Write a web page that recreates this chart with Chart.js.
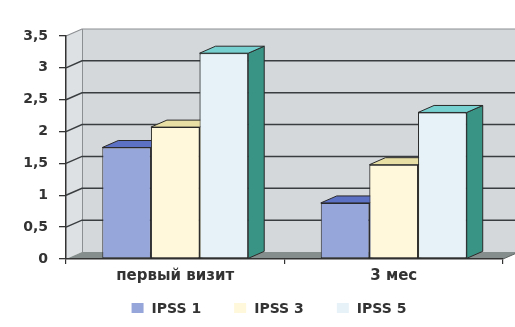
<!DOCTYPE html>
<html>
<head>
<meta charset="utf-8">
<script src="https://cdn.jsdelivr.net/npm/chart.js@4.4.1/dist/chart.umd.min.js"></script>
<style>
  html, body { margin: 0; padding: 0; background: #ffffff; }
  #wrap { width: 515px; height: 327px; position: relative; }
</style>
</head>
<body>
<div id="wrap"><canvas id="chart"></canvas></div>
<script>
// Visit categories and IPSS series
const categories = ['первый визит', '3 мес'];
const seriesNames = ['IPSS 1', 'IPSS 3', 'IPSS 5'];
const ipss1 = [1.75, 0.88];
const ipss3 = [2.07, 1.48];
const ipss5 = [3.23, 2.30];
const yTickValues = [0, 0.5, 1, 1.5, 2, 2.5, 3, 3.5];
const yTickLabels = ['0', '0,5', '1', '1,5', '2', '2,5', '3', '3,5'];

// Face colours of the 3D columns: front, top, side
const frontColors = ['#97A6DA', '#FFF8DA', '#E6F2F8'];
const topColors   = ['#5C70C4', '#E8DFA5', '#76D0CF'];
const sideColors  = ['#4A5EA8', '#C9BE82', '#3A9486'];

const DEPTH = { dx: 16, dy: -7 };
const FONT = 'DejaVu Sans';
const TEXT = '#333333';
const EDGE = '#2a2a2a';

function poly(ctx, pts) {
  ctx.beginPath();
  ctx.moveTo(pts[0][0], pts[0][1]);
  for (let i = 1; i < pts.length; i++) ctx.lineTo(pts[i][0], pts[i][1]);
  ctx.closePath();
}

// Back wall, side wall, floor and gridlines of the 3D box
const wallsPlugin = {
  id: 'walls',
  beforeDraw(chart) {
    const { ctx, chartArea: a } = chart;
    const y = chart.scales.y;
    const { dx, dy } = DEPTH;
    const farRight = chart.width + 20;
    ctx.save();

    ctx.fillStyle = '#D4D8DB';
    ctx.fillRect(a.left + dx, a.top + dy, farRight, a.bottom - a.top);

    ctx.fillStyle = '#DEE1E3';
    poly(ctx, [[a.left, a.top], [a.left + dx, a.top + dy], [a.left + dx, a.bottom + dy], [a.left, a.bottom]]);
    ctx.fill();

    // edge between side wall and back wall
    ctx.strokeStyle = '#8c8f92';
    ctx.lineWidth = 1;
    ctx.beginPath();
    ctx.moveTo(a.left + dx + 0.5, a.top + dy);
    ctx.lineTo(a.left + dx + 0.5, a.bottom + dy);
    ctx.stroke();

    y.ticks.forEach(t => {
      if (t.value === 0) return;
      const py = y.getPixelForValue(t.value);
      const top = t.value === y.max;
      ctx.strokeStyle = top ? '#8d9093' : '#3a3d3f';
      ctx.lineWidth = top ? 1.2 : 1.5;
      ctx.beginPath();
      ctx.moveTo(a.left, py);
      ctx.lineTo(a.left + dx, py + dy);
      ctx.lineTo(farRight, py + dy);
      ctx.stroke();
    });

    // floor
    ctx.fillStyle = '#858E8C';
    poly(ctx, [[a.left, a.bottom], [a.right, a.bottom], [a.right + dx, a.bottom + dy], [a.left + dx, a.bottom + dy]]);
    ctx.fill();
    ctx.strokeStyle = '#5d6462';
    ctx.lineWidth = 1;
    ctx.beginPath();
    ctx.moveTo(a.right, a.bottom);
    ctx.lineTo(a.right + dx, a.bottom + dy);
    ctx.stroke();
    ctx.restore();
  }
};

// Top and side faces of each column, drawn left to right so each front face hides the neighbour's side
const columnsPlugin = {
  id: 'columns3d',
  afterDatasetsDraw(chart) {
    const { ctx } = chart;
    const { dx, dy } = DEPTH;
    const n = chart.data.datasets.length;
    ctx.save();
    for (let i = 0; i < categories.length; i++) {
      for (let d = 0; d < n; d++) {
        const bar = chart.getDatasetMeta(d).data[i];
        if (d > 0) bar.draw(ctx, chart.chartArea);
        const { x, y, base, width } = bar.getProps(['x', 'y', 'base', 'width'], true);
        const l = x - width / 2, r = x + width / 2;
        ctx.lineWidth = 1;
        ctx.strokeStyle = EDGE;
        ctx.lineJoin = 'round';
        ctx.fillStyle = sideColors[d];
        poly(ctx, [[r, y], [r + dx, y + dy], [r + dx, base + dy], [r, base]]);
        ctx.fill(); ctx.stroke();
        ctx.fillStyle = topColors[d];
        poly(ctx, [[l, y], [l + dx, y + dy], [r + dx, y + dy], [r, y]]);
        ctx.fill(); ctx.stroke();
      }
    }
    ctx.restore();
  }
};

// Legend row under the category labels
const legendPlugin = {
  id: 'legendRow',
  afterDraw(chart) {
    const { ctx } = chart;
    const ds = chart.data.datasets;
    const box = { w: 12, h: 10 }, gap = 8, spacing = 33;
    const centerX = 269, midY = 308;
    ctx.save();
    ctx.font = `bold 14px "${FONT}"`;
    const widths = ds.map(s => box.w + gap + ctx.measureText(s.label).width);
    const total = widths.reduce((p, c) => p + c, 0) + spacing * (ds.length - 1);
    let cx = centerX - total / 2;
    ds.forEach((s, k) => {
      ctx.fillStyle = s.backgroundColor;
      ctx.fillRect(cx, midY - box.h / 2, box.w, box.h);
      ctx.fillStyle = TEXT;
      ctx.textBaseline = 'middle';
      ctx.textAlign = 'left';
      ctx.fillText(s.label, cx + box.w + gap, midY + 1);
      cx += widths[k] + spacing;
    });
    ctx.restore();
  }
};

const seriesValues = [ipss1, ipss3, ipss5];

new Chart(document.getElementById('chart'), {
  type: 'bar',
  data: {
    labels: categories,
    datasets: seriesNames.map((name, k) => ({
      label: name,
      data: seriesValues[k],
      backgroundColor: frontColors[k],
      borderColor: EDGE,
      borderWidth: 1,
      borderSkipped: false,
      categoryPercentage: 0.668,
      barPercentage: 1.0
    }))
  },
  options: {
    responsive: true,
    maintainAspectRatio: false,
    animation: false,
    layout: { padding: { top: 36, right: 12, bottom: 0, left: 0 } },
    plugins: {
      legend: { display: false },
      tooltip: { enabled: false }
    },
    scales: {
      x: {
        grid: { offset: true, drawOnChartArea: false, drawTicks: true, tickLength: 5, color: '#333', lineWidth: 1.2 },
        border: { display: true, color: '#333', width: 1.5 },
        ticks: { padding: 3, color: TEXT, font: { family: FONT, size: 15, weight: 'bold' } },
        afterFit(s) { s.height = 68; }
      },
      y: {
        min: 0,
        max: 3.5,
        afterBuildTicks(s) { s.ticks = yTickValues.map(v => ({ value: v })); },
        ticks: {
          padding: 11,
          color: TEXT,
          font: { family: FONT, size: 14, weight: 'bold' },
          callback: (v, i) => yTickLabels[i]
        },
        grid: { drawOnChartArea: false, drawTicks: true, tickLength: 7, color: '#333', lineWidth: 1.3 },
        border: { display: true, color: '#333', width: 1.5 },
        afterFit(s) { s.width = 66; }
      }
    }
  },
  plugins: [wallsPlugin, columnsPlugin, legendPlugin]
});
</script>
</body>
</html>
